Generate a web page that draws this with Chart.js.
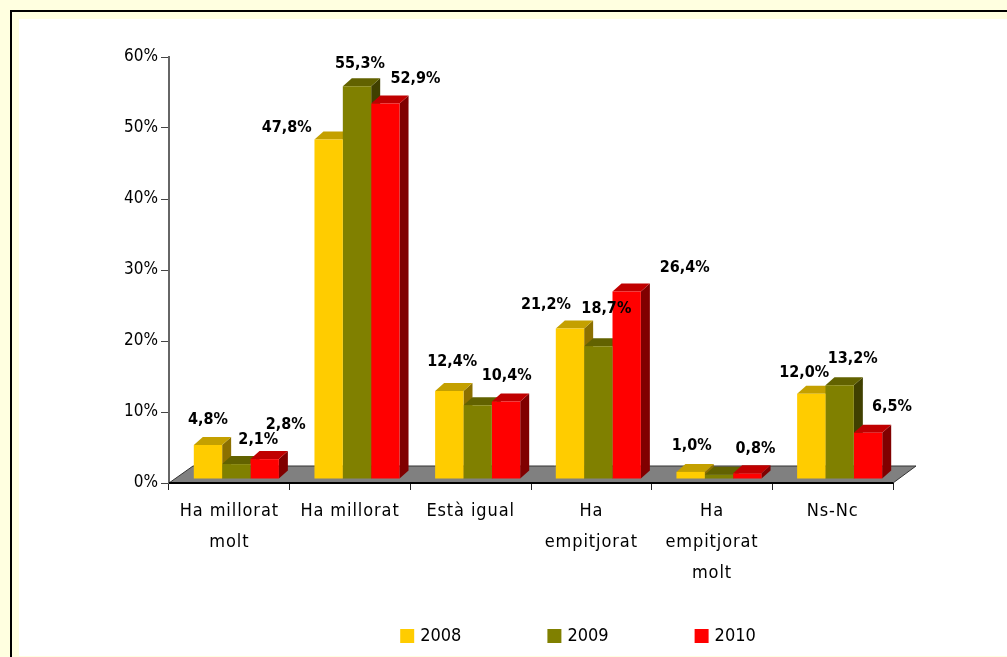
<!DOCTYPE html>
<html><head><meta charset="utf-8">
<script src="https://cdn.jsdelivr.net/npm/chart.js@4"></script>
<style>
html,body{margin:0;padding:0;width:1007px;height:657px;overflow:hidden;background:#FFFFE0}
#line{position:absolute;left:10px;top:10px;width:1100px;height:800px;border:2px solid #000;box-sizing:border-box}
#white{position:absolute;left:19px;top:19px;width:988px;height:637px;background:#fff}
canvas{position:absolute;left:0;top:0}
</style></head><body>
<div id="line"></div><div id="white"></div>
<canvas id="c" width="1007" height="657"></canvas>
<script>
const categories=[['Ha millorat','molt'],['Ha millorat'],['Està igual'],['Ha','empitjorat'],['Ha','empitjorat','molt'],['Ns-Nc']];
const years=['2008','2009','2010'];
const values2008=[4.8,47.8,12.4,21.2,1.0,12.0];
const values2009=[2.1,55.3,10.4,18.7,0.6,13.2];
const values2010=[2.8,52.9,10.9,26.4,0.8,6.5];
const yTicks=[0,10,20,30,40,50,60];
// which value labels the reference shows, and where each sits relative to its bar
const labelOffsets2008=[[7,-29],[-35,-16],[10,-33],[-17,-28],[8,-30],[0,-25]];
const labelOffsets2009=[[29,-28],[10,-27],[36,-33],[15,-41],null,[20,-30]];
const labelOffsets2010=[[28,-38],[37,-29],null,[65,-28],[15,-28],[31,-30]];

const fronts=['#FFCC00','#808000','#FF0000'];
const tops=['#C4A000','#626200','#C00000'];
const sides=['#8C7000','#404000','#800000'];
const allOffsets=[labelOffsets2008,labelOffsets2009,labelOffsets2010];
const SHIFT={x:7,y:-4}, DEPTH={x:9,y:8};

const threeD={
 id:'threeD',
 beforeDatasetsDraw(chart){
  const {ctx,chartArea:a}=chart;
  ctx.save();
  ctx.beginPath();
  ctx.moveTo(a.left,a.bottom);ctx.lineTo(a.left+24,a.bottom-17);
  ctx.lineTo(a.right+23,a.bottom-17);ctx.lineTo(a.right,a.bottom);ctx.closePath();
  ctx.fillStyle='#808080';ctx.fill();
  ctx.strokeStyle='#333';ctx.lineWidth=1;ctx.stroke();
  ctx.beginPath();ctx.moveTo(a.left,a.bottom);ctx.lineTo(a.right,a.bottom);
  ctx.strokeStyle='#000';ctx.lineWidth=2;ctx.stroke();
  // side and top faces, left to right; the front faces are drawn over them by the library
  ctx.translate(SHIFT.x,SHIFT.y);
  chart.data.datasets.forEach((ds,i)=>{
   chart.getDatasetMeta(i).data.forEach(b=>{
    const l=b.x-b.width/2,r=b.x+b.width/2,t=b.y,bot=b.base;
    ctx.fillStyle=sides[i];
    ctx.beginPath();ctx.moveTo(r,t);ctx.lineTo(r+DEPTH.x,t-DEPTH.y);ctx.lineTo(r+DEPTH.x,bot-DEPTH.y);ctx.lineTo(r,bot);ctx.closePath();ctx.fill();
    ctx.fillStyle=tops[i];
    ctx.beginPath();ctx.moveTo(l,t);ctx.lineTo(l+DEPTH.x,t-DEPTH.y);ctx.lineTo(r+DEPTH.x,t-DEPTH.y);ctx.lineTo(r,t);ctx.closePath();ctx.fill();
   });
  });
  ctx.restore();
 },
 beforeDatasetDraw(chart){
  chart.ctx.save();
  chart.ctx.translate(SHIFT.x,SHIFT.y);
 },
 afterDatasetDraw(chart){chart.ctx.restore();},
 afterDatasetsDraw(chart){
  const {ctx}=chart;
  ctx.save();
  ctx.font='bold 16px "DejaVu Sans Condensed"';
  ctx.fillStyle='#000';ctx.textAlign='center';ctx.textBaseline='middle';
  chart.data.datasets.forEach((ds,i)=>{
   chart.getDatasetMeta(i).data.forEach((b,k)=>{
    const o=allOffsets[i][k];
    if(!o)return;
    ctx.fillText(ds.data[k].toFixed(1).replace('.',',')+'%',b.x+o[0],b.y+o[1]);
   });
  });
  ctx.restore();
 },
 afterLayout(chart){
  const lg=chart.legend,w=lg.right-lg.left;
  const d=579.5-(lg.left+w/2);
  lg.left+=d;lg.right+=d;
  lg.top=627-89;lg.bottom=657;
 }
};

new Chart(document.getElementById('c'),{
 type:'bar',
 data:{labels:categories,datasets:[
  {label:years[0],data:values2008,backgroundColor:fronts[0],clip:false},
  {label:years[1],data:values2009,backgroundColor:fronts[1],clip:false},
  {label:years[2],data:values2010,backgroundColor:fronts[2],clip:false}
 ]},
 options:{
  responsive:false,animation:false,
  layout:{padding:{top:57,right:114,bottom:0,left:0}},
  datasets:{bar:{categoryPercentage:0.705,barPercentage:1,borderWidth:0}},
  plugins:{
   tooltip:{enabled:false},title:{display:false},
   legend:{position:'bottom',maxHeight:40,labels:{usePointStyle:true,pointStyle:'rect',boxWidth:8,boxHeight:14,padding:89,color:'#000',font:{family:'"DejaVu Sans Condensed"',size:18}}}
  },
  scales:{
   x:{
    afterFit(s){
     s.height=134;
     if(!s._spaced){
      const d=s.drawLabels;
      s.drawLabels=function(a){this.ctx.letterSpacing='0.9px';d.call(this,a);this.ctx.letterSpacing='0px';};
      s._spaced=true;
     }
    },
    border:{color:'#000',width:2},
    grid:{drawOnChartArea:false,color:'#222',tickLength:7,offset:true},
    ticks:{color:'#000',maxRotation:0,autoSkip:false,padding:6,font:{family:'"DejaVu Sans Condensed"',size:18,lineHeight:1.72}}
   },
   y:{
    min:0,max:60,
    afterFit(s){s.width=169;},
    afterBuildTicks(s){s.ticks=yTicks.map(v=>({value:v}));},
    border:{color:'#666',width:2},
    grid:{drawOnChartArea:false,color:'#444',tickLength:8},
    ticks:{color:'#000',padding:3,callback:v=>v+'%',font:{family:'"DejaVu Sans Condensed"',size:17}}
   }
  }
 },
 plugins:[threeD]
});
</script>
</body></html>
